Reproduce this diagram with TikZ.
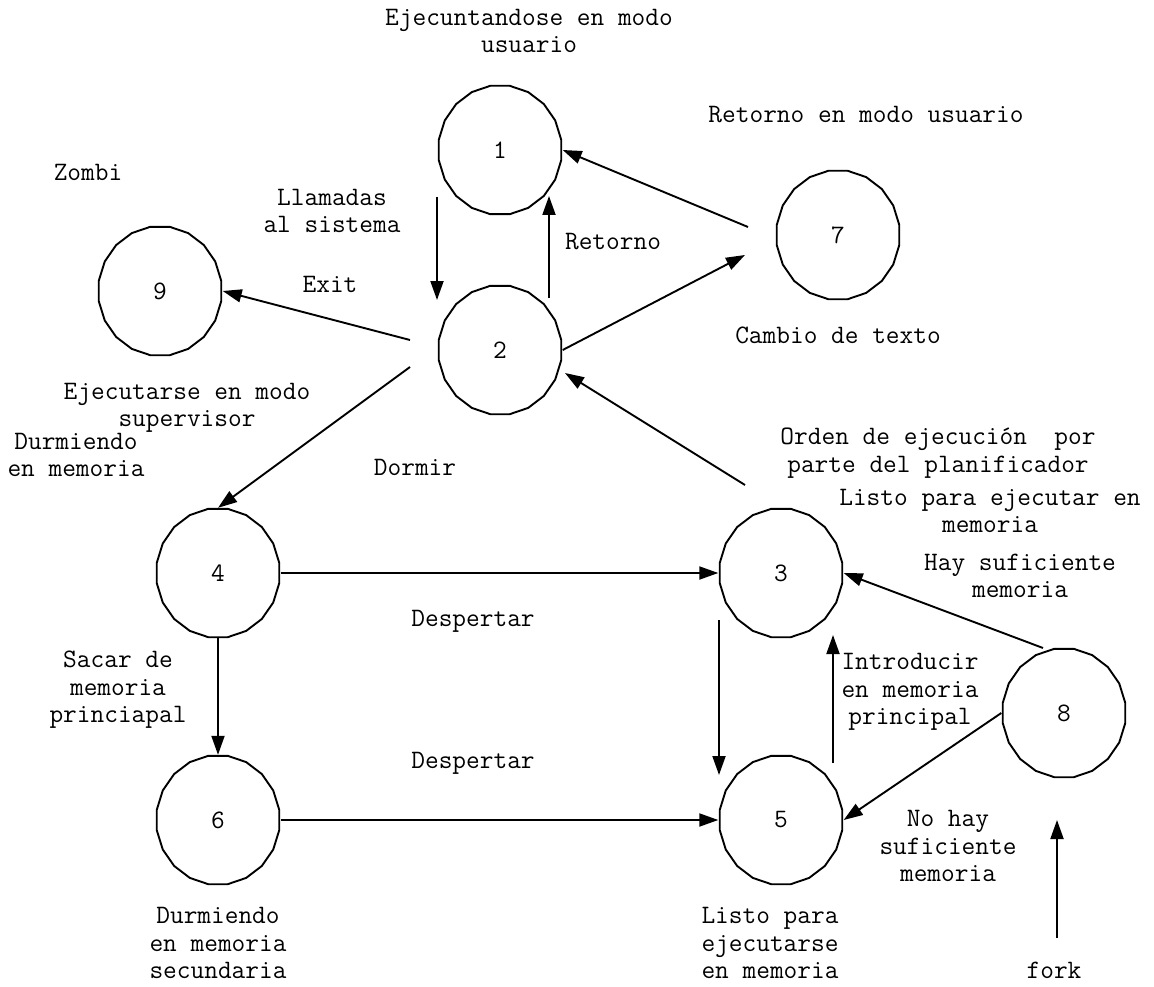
\documentclass[tikz,border=0pt]{standalone}
\usepackage{fontspec}
\usetikzlibrary{arrows.meta,calc,shapes.geometric}

\tikzset{
  state/.style={shape=ellipse, draw=none, minimum width=125pt, minimum height=130pt,
                inner sep=0pt, font=\labelfont},
  lbl/.style={align=center, inner sep=0pt, font=\labelfont},
  arr/.style={line width=1.9pt, -{Triangle[length=19pt,width=13pt]}},
  rim/.style={line width=1.9pt, line join=round},
}
\newcommand{\labelfont}{\ttfamily\fontsize{26.6}{27.4}\selectfont}
% polygonal outline around a state node
\newcommand{\rimof}[1]{%
  \draw[rim, shift={(#1.center)}] plot[domain=9:369, samples=21]
    ({62*cos(\x)}, {65*sin(\x)}) -- cycle;}

\begin{document}
\begin{tikzpicture}[x=1pt, y=-1pt]
\useasboundingbox (0,0) rectangle (1154,987);

% states
\node[state] (n1) at (500,150) {1};
\node[state] (n2) at (500,350) {2};
\node[state] (n7) at (838,235) {7};
\node[state] (n9) at (160,291) {9};
\node[state] (n4) at (218,573) {4};
\node[state] (n3) at (781,573) {3};
\node[state] (n6) at (218,820) {6};
\node[state] (n5) at (781,820) {5};
\node[state] (n8) at (1064,713) {8};
\foreach \n in {n1,n2,n7,n9,n4,n3,n6,n5,n8} {\rimof{\n}}

% texts
\node[lbl] (t1)  at (529,31)  {Ejecuntandose en modo\\usuario};
\node[lbl] (t7a) at (866,115) {Retorno en modo usuario};
\node[lbl] (t9)  at (88,172)  {Zombi};
\node[lbl] (t12) at (332,211) {Llamadas\\al sistema};
\node[lbl] (t21) at (613,242) {Retorno};
\node[lbl] (t29) at (330,284) {Exit};
\node[lbl] (t27) at (838,335) {Cambio de texto};
\node[lbl] (t2)  at (187,408) {Ejecutarse en modo\\supervisor};
\node[lbl] (t32) at (938,453) {Orden de ejecución\ \ por\\parte del planificador};
\node[lbl] (t3)  at (990,511) {Listo para ejecutar en\\memoria};
\node[lbl] (t4)  at (76,455)  {Durmiendo\\en memoria};
\node[lbl] (t24) at (415,467) {Dormir};
\node[lbl] (t83) at (1020,576) {Hay suficiente\\memoria};
\node[lbl] (t43) at (473,621) {Despertar};
\node[lbl] (t46) at (118,690) {Sacar de\\memoria\\princiapal};
\node[lbl] (t53) at (910,692) {Introducir\\en memoria\\principal};
\node[lbl] (t65) at (473,763) {Despertar};
\node[lbl] (t85) at (948,846) {No hay\\suficiente\\memoria};
\node[lbl] (t6)  at (218,943) {Durmiendo\\en memoria\\secundaria};
\node[lbl] (t5)  at (770,943) {Listo para\\ejecutarse\\en memoria};
\node[lbl] (tf)  at (1054,970) {fork};

% transitions
\draw[arr] ($(n1.center)+(-63,47)$) -- ($(n2.center)+(-63,-50)$);
\draw[arr] ($(n2.center)+(49,-52)$) -- ($(n1.center)+(49,46)$);
\draw[arr] ($(n7.center)+(-90,-8)$) -- (n1.east);
\draw[arr] (n2.east) -- ($(n7.center)+(-93,20)$);
\draw[arr] ($(n2.center)+(-90,-10)$) -- (n9.east);
\draw[arr] ($(n2.center)+(-90,17)$) -- (n4.north);
\draw[arr] ($(n3.center)+(-36,-88)$) -- ($(n2.center)+(65,23)$);
\draw[arr] (n4.east) -- (n3.west);
\draw[arr] ($(n3.center)+(-62,47)$) -- ($(n5.center)+(-62,-45)$);
\draw[arr] ($(n5.center)+(52,-57)$) -- ($(n3.center)+(52,62)$);
\draw[arr] ($(n8.center)+(-21,-65)$) -- (n3.east);
\draw[arr] (n8.west) -- (n5.east);
\draw[arr] (n4.south) -- (n6.north);
\draw[arr] (n6.east) -- (n5.west);
\coordinate (forkfoot) at ($(tf.north)+(3,-24)$);
\coordinate (forktip) at (1057,820);
\draw[arr] (forkfoot) -- (forktip);
\end{tikzpicture}
\end{document}
